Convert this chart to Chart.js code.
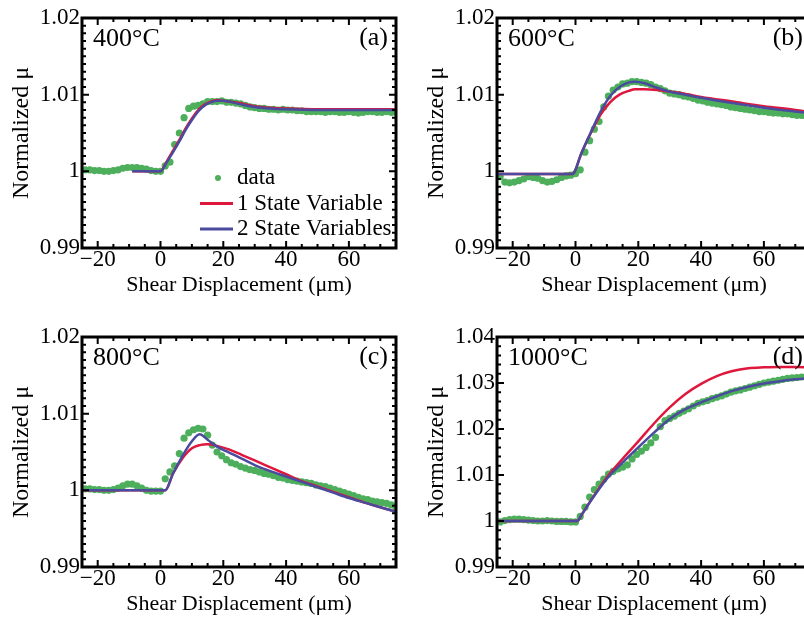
<!DOCTYPE html>
<html>
<head>
<meta charset="utf-8">
<script src="https://cdn.jsdelivr.net/npm/chart.js@4.4.1/dist/chart.umd.min.js"></script>
<style>
  html, body { margin: 0; padding: 0; background: #fff; overflow: hidden; width: 804px; height: 618px; position: relative; }
  canvas { position: absolute; }
</style>
</head>
<body>
<canvas id="panelA" width="400" height="300" style="left:0;top:0"></canvas>
<canvas id="panelB" width="400" height="300" style="left:415px;top:0"></canvas>
<canvas id="panelC" width="400" height="300" style="left:0;top:319px"></canvas>
<canvas id="panelD" width="400" height="300" style="left:415px;top:319px"></canvas>
<script>
// tick labels
const xTicks = [-20, 0, 20, 40, 60];
const yTicksSmall = [0.99, 1, 1.01, 1.02];
const yTicksBig = [0.99, 1, 1.01, 1.02, 1.03, 1.04];

// measured points (shear displacement, um)
const dataX = [-24, -22.5, -21, -19.5, -18, -16.5, -15, -13.5, -12, -10.5, -9, -7.5, -6, -4.5, -3, -1.5,
  0, 1.5, 3, 4.5, 6, 7.5, 9, 10.5, 12, 13.5, 15, 16.5, 18, 19.5, 21, 22.5, 24, 25.5, 27, 28.5,
  30, 31.5, 33, 34.5, 36, 37.5, 39, 40.5, 42, 43.5, 45, 46.5, 48, 49.5, 51, 52.5, 54, 55.5, 57, 58.5,
  60, 61.5, 63, 64.5, 66, 67.5, 69, 70.5, 72, 73.5, 75];

// 400 C
const dataA = [1.0002, 1.0002, 1.0001, 1.0001, 1.0000, 1.0000, 1.0001, 1.0002, 1.0004, 1.0005, 1.0005, 1.0005, 1.0004, 1.0003, 1.0001, 1.0000,
  1.0000, 1.0007, 1.0012, 1.0035, 1.0050, 1.0070, 1.0082, 1.0085, 1.0086, 1.0088, 1.0091, 1.0091, 1.0091, 1.0092, 1.0090, 1.0090, 1.0089, 1.0088, 1.0086, 1.0084,
  1.0083, 1.0082, 1.0082, 1.0081, 1.0081, 1.0080, 1.0081, 1.0080, 1.0080, 1.0079, 1.0079, 1.0078, 1.0078, 1.0078, 1.0078, 1.0077, 1.0078, 1.0078, 1.0077, 1.0077,
  1.0078, 1.0077, 1.0076, 1.0077, 1.0078, 1.0078, 1.0077, 1.0077, 1.0078, 1.0077, 1.0077];
const lineAX = [-9, 0, 2, 4, 6, 8, 10, 12, 14, 16, 18, 20, 25, 30, 35, 40, 50, 60, 75];
const redA = [1.0000, 1.0000, 1.0013, 1.0027, 1.0041, 1.0056, 1.0069, 1.0080, 1.0087, 1.0091, 1.0093, 1.0092, 1.0089, 1.0085, 1.0083, 1.0082, 1.0081, 1.0081, 1.0081];
const blueA = [1.0000, 1.0000, 1.0012, 1.0025, 1.0039, 1.0054, 1.0067, 1.0078, 1.0086, 1.0090, 1.0092, 1.0092, 1.0088, 1.0084, 1.0082, 1.0081, 1.0080, 1.0080, 1.0080];

// 600 C
const dataB = [0.9993, 0.9986, 0.9985, 0.9986, 0.9988, 0.9990, 0.9993, 0.9992, 0.9991, 0.9988, 0.9986, 0.9987, 0.9989, 0.9992, 0.9994, 0.9995,
  0.9997, 1.0002, 1.0025, 1.0040, 1.0055, 1.0065, 1.0084, 1.0098, 1.0106, 1.0110, 1.0114, 1.0115, 1.0117, 1.0117, 1.0116, 1.0115, 1.0113, 1.0110, 1.0108, 1.0105,
  1.0102, 1.0101, 1.0100, 1.0098, 1.0097, 1.0095, 1.0093, 1.0092, 1.0090, 1.0089, 1.0088, 1.0087, 1.0086, 1.0084, 1.0083, 1.0082, 1.0081, 1.0080, 1.0079, 1.0078,
  1.0078, 1.0077, 1.0076, 1.0076, 1.0075, 1.0075, 1.0074, 1.0073, 1.0073, 1.0072, 1.0072];
const lineBX = [-25, -1, 2, 5, 8, 11, 14, 17, 19, 22, 26, 30, 35, 40, 50, 60, 70, 75];
const redB = [0.99965, 0.99965, 1.0025, 1.0051, 1.0074, 1.0090, 1.0100, 1.0105, 1.0107, 1.0107, 1.0106, 1.0104, 1.0101, 1.0097, 1.0091, 1.0085, 1.0080, 1.0077];
const blueB = [0.99965, 0.99965, 1.0025, 1.0052, 1.0078, 1.0098, 1.0110, 1.0116, 1.0117, 1.0115, 1.0109, 1.0104, 1.0100, 1.0096, 1.0089, 1.0083, 1.0078, 1.0076];

// 800 C
const dataC = [1.0002, 1.0002, 1.0001, 1.0001, 1.0000, 1.0000, 1.0001, 1.0003, 1.0006, 1.0008, 1.0008, 1.0006, 1.0003, 1.0000, 0.9999, 0.9999,
  0.9999, 1.0015, 1.0024, 1.0032, 1.0048, 1.0068, 1.0075, 1.0079, 1.0081, 1.0080, 1.0072, 1.0059, 1.0050, 1.0045, 1.0040, 1.0036, 1.0034, 1.0031, 1.0029, 1.0027,
  1.0026, 1.0024, 1.0022, 1.0021, 1.0019, 1.0017, 1.0016, 1.0014, 1.0013, 1.0012, 1.0011, 1.0010, 1.0009, 1.0007, 1.0006, 1.0005, 1.0003, 1.0001, 0.9999, 0.9997,
  0.9995, 0.9993, 0.9991, 0.9989, 0.9988, 0.9986, 0.9985, 0.9984, 0.9983, 0.9981, 0.9978];
const lineCX = [-25, 1.5, 4, 7, 10, 12.5, 15, 18, 22, 26, 30, 35, 40, 45, 50, 55, 60, 65, 70, 75];
const redC = [1.0000, 1.0000, 1.0022, 1.0042, 1.0055, 1.0059, 1.0060, 1.0058, 1.0053, 1.0046, 1.0039, 1.0030, 1.0021, 1.0012, 1.0005, 0.9998, 0.9991, 0.9984, 0.9978, 0.9972];
const blueC = [1.0000, 1.0000, 1.0022, 1.0045, 1.0064, 1.0073, 1.0066, 1.0057, 1.0049, 1.0041, 1.0033, 1.0025, 1.0018, 1.0011, 1.0004, 0.9997, 0.9990, 0.9984, 0.9978, 0.9972];

// 1000 C
const dataD = [0.9998, 1.0001, 1.0003, 1.0004, 1.0004, 1.0003, 1.0002, 1.0001, 1.0000, 1.0000, 1.0001, 1.0000, 0.9999, 0.9999, 0.9999, 0.9998,
  0.9998, 1.0010, 1.0030, 1.0052, 1.0068, 1.0080, 1.0091, 1.0102, 1.0108, 1.0113, 1.0117, 1.0122, 1.0135, 1.0145, 1.0152, 1.0160, 1.0170, 1.0182, 1.0205, 1.0218,
  1.0223, 1.0228, 1.0234, 1.0239, 1.0244, 1.0250, 1.0256, 1.0259, 1.0262, 1.0266, 1.0269, 1.0272, 1.0276, 1.0280, 1.0283, 1.0285, 1.0288, 1.0291, 1.0294, 1.0297,
  1.0300, 1.0302, 1.0304, 1.0306, 1.0308, 1.0310, 1.0311, 1.0312, 1.0313, 1.0314, 1.0315];
const lineDX = [-25, 0.5, 2, 5, 10, 15, 20, 25, 30, 35, 40, 45, 50, 55, 60, 65, 70, 75];
const redD = [1.0000, 1.0000, 1.0014, 1.0046, 1.0095, 1.0135, 1.0173, 1.0212, 1.0247, 1.0276, 1.0298, 1.0315, 1.0326, 1.0332, 1.0334, 1.0335, 1.0335, 1.0334];
const blueD = [1.0000, 1.0000, 1.0014, 1.0045, 1.0092, 1.0127, 1.0160, 1.0192, 1.0222, 1.0243, 1.0258, 1.0271, 1.0283, 1.0292, 1.0299, 1.0304, 1.0308, 1.0311];

const GREEN = '#4daf5b';
const RED = '#e0173c';
const BLUE = '#4a4a9e';
const FAMILY = '"Liberation Serif", "Times New Roman", serif';

Chart.defaults.color = '#000';
Chart.defaults.font.family = FAMILY;

const pairs = (xs, ys) => xs.map((x, i) => ({ x, y: ys[i] }));

// box frame with inward ticks on all four sides, panel labels and legend
const frame = {
  id: 'frame',
  afterDraw(chart, args, opts) {
    const { ctx, chartArea: a, scales: { x, y } } = chart;
    ctx.save();
    ctx.strokeStyle = '#000';
    ctx.lineWidth = 2;
    ctx.beginPath();
    for (let v = x.min; v <= x.max + 1e-9; v += 5) {
      const px = x.getPixelForValue(v);
      const len = v % 20 === 0 ? 7 : 4;
      ctx.moveTo(px, a.bottom); ctx.lineTo(px, a.bottom - len);
      ctx.moveTo(px, a.top); ctx.lineTo(px, a.top + len);
    }
    const steps = Math.round((y.max - y.min) / opts.yMinor);
    for (let i = 0; i <= steps; i++) {
      const v = y.min + i * opts.yMinor;
      const py = y.getPixelForValue(v);
      const major = Math.abs(v * 100 - Math.round(v * 100)) < 1e-6;
      const len = major ? 7 : 4;
      ctx.moveTo(a.left, py); ctx.lineTo(a.left + len, py);
      ctx.moveTo(a.right, py); ctx.lineTo(a.right - len, py);
    }
    ctx.stroke();
    ctx.lineWidth = 3;
    ctx.strokeRect(a.left, a.top, a.width, a.height);

    ctx.fillStyle = '#000';
    ctx.font = '26px ' + FAMILY;
    ctx.textBaseline = 'alphabetic';
    ctx.textAlign = 'left';
    ctx.fillText(opts.temp, a.left + 11, a.top + 28);
    ctx.textAlign = 'right';
    ctx.fillText(opts.tag, a.right - 8, a.top + 27);

    if (opts.legend) {
      const lx = a.left + 118, ly = a.top + 160;
      ctx.font = '23px ' + FAMILY;
      ctx.textAlign = 'left';
      ctx.textBaseline = 'middle';
      chart.data.datasets.forEach((ds, i) => {
        const cy = ly + i * 25.5;
        if (ds.showLine) {
          ctx.strokeStyle = ds.borderColor;
          ctx.lineWidth = 3;
          ctx.beginPath();
          ctx.moveTo(lx, cy); ctx.lineTo(lx + 33, cy);
          ctx.stroke();
        } else {
          ctx.fillStyle = ds.backgroundColor;
          ctx.beginPath();
          ctx.arc(lx + 18, cy, 3, 0, Math.PI * 2);
          ctx.fill();
        }
        ctx.fillStyle = '#000';
        ctx.fillText(ds.label, lx + 37, cy);
      });
    }
    ctx.restore();
  }
};

function axes(yMax, yTicks) {
  const tickFont = { family: FAMILY, size: 23 };
  return {
    x: {
      type: 'linear', min: -25, max: 75,
      afterBuildTicks: axis => { axis.ticks = xTicks.map(value => ({ value })); },
      afterFit: axis => { axis.height = 52; },
      grid: { display: false, drawTicks: false, tickLength: 0 },
      border: { display: false },
      ticks: { font: tickFont, padding: -2, maxRotation: 0, color: '#000',
        callback: v => v < 0 ? '\u2212' + (-v) : String(v) },
      title: { display: true, text: 'Shear Displacement (\u03bcm)', color: '#000',
        font: { family: FAMILY, size: 22 }, padding: { top: 0, bottom: 2 } }
    },
    y: {
      type: 'linear', min: 0.99, max: yMax,
      afterBuildTicks: axis => { axis.ticks = yTicks.map(value => ({ value })); },
      afterFit: axis => { axis.width = 82; },
      grid: { display: false, drawTicks: false, tickLength: 0 },
      border: { display: false },
      ticks: { font: tickFont, padding: 2, color: '#000',
        callback: v => String(Number(v.toFixed(2))) },
      title: { display: true, text: 'Normalized \u03bc', color: '#000',
        font: { family: FAMILY, size: 24 }, padding: { top: 7, bottom: 0 } }
    }
  };
}

function makePanel(id, p) {
  return new Chart(document.getElementById(id), {
    type: 'scatter',
    data: {
      datasets: [
        { label: 'data', data: pairs(dataX, p.data), backgroundColor: GREEN, borderWidth: 0,
          pointRadius: 3.6, order: 3 },
        { label: '1 State Variable', data: pairs(p.lineX, p.red), showLine: true, borderColor: RED,
          backgroundColor: RED, borderWidth: 2.5, pointRadius: 0, cubicInterpolationMode: 'monotone', order: 2 },
        { label: '2 State Variables', data: pairs(p.lineX, p.blue), showLine: true, borderColor: BLUE,
          backgroundColor: BLUE, borderWidth: 2.5, pointRadius: 0, cubicInterpolationMode: 'monotone', order: 1 }
      ]
    },
    options: {
      responsive: false,
      animation: false,
      devicePixelRatio: 1,
      layout: { padding: { top: 18, right: 4, left: 0, bottom: 0 } },
      plugins: {
        legend: { display: false },
        tooltip: { enabled: false },
        frame: { temp: p.temp, tag: p.tag, legend: p.legend, yMinor: p.yMinor }
      },
      scales: axes(p.yMax, p.yTicks)
    },
    plugins: [frame]
  });
}

makePanel('panelA', { data: dataA, lineX: lineAX, red: redA, blue: blueA, temp: '400\u00b0C', tag: '(a)',
  legend: true, yMax: 1.02, yTicks: yTicksSmall, yMinor: 0.001 });
makePanel('panelB', { data: dataB, lineX: lineBX, red: redB, blue: blueB, temp: '600\u00b0C', tag: '(b)',
  legend: false, yMax: 1.02, yTicks: yTicksSmall, yMinor: 0.001 });
makePanel('panelC', { data: dataC, lineX: lineCX, red: redC, blue: blueC, temp: '800\u00b0C', tag: '(c)',
  legend: false, yMax: 1.02, yTicks: yTicksSmall, yMinor: 0.001 });
makePanel('panelD', { data: dataD, lineX: lineDX, red: redD, blue: blueD, temp: '1000\u00b0C', tag: '(d)',
  legend: false, yMax: 1.04, yTicks: yTicksBig, yMinor: 0.002 });
</script>
</body>
</html>
